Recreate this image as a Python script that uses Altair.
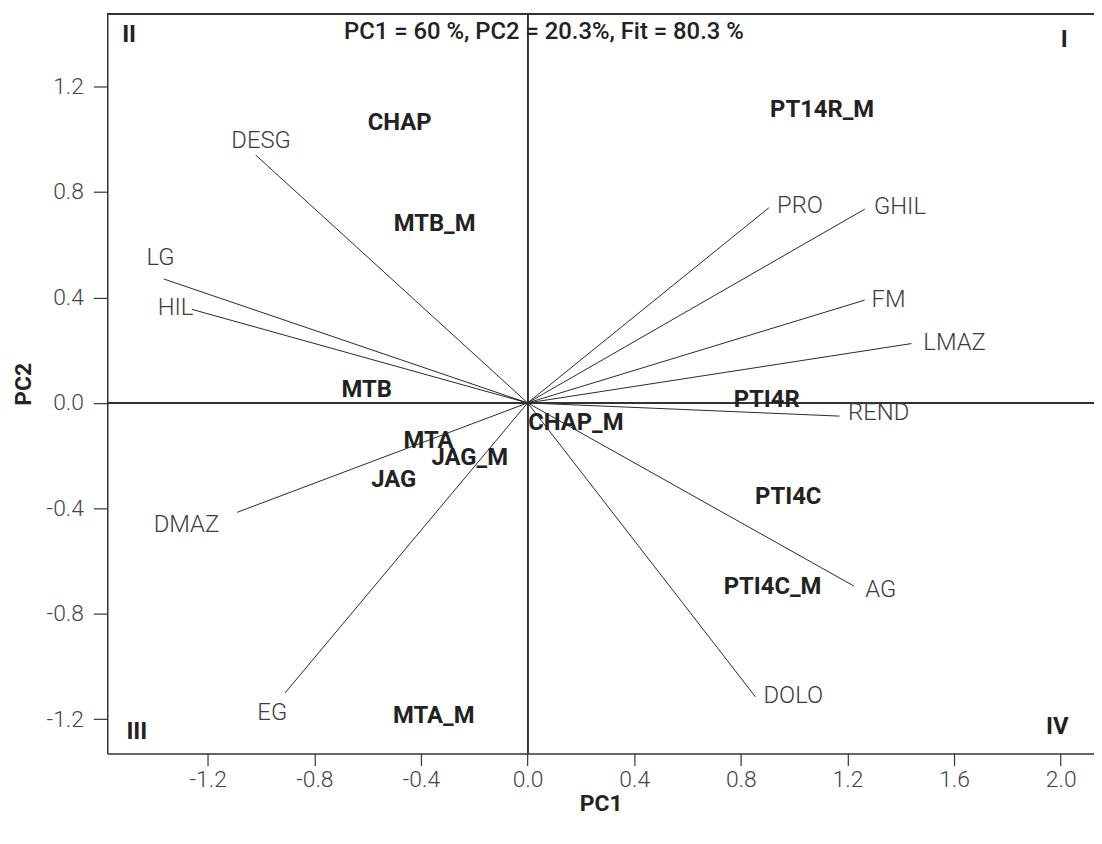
import altair as alt
import pandas as pd

# ---- data ----
# variable vectors: end points (PC1, PC2) and label positions
var_names = ["DESG", "LG", "HIL", "DMAZ", "EG", "PRO", "GHIL", "FM", "LMAZ", "REND", "AG", "DOLO"]
var_pc1 = [-1.02, -1.365, -1.26, -1.09, -0.91, 0.905, 1.265, 1.265, 1.44, 1.17, 1.225, 0.855]
var_pc2 = [0.94, 0.47, 0.355, -0.415, -1.10, 0.74, 0.735, 0.39, 0.225, -0.05, -0.695, -1.115]
var_lab_pc1 = [-1.00, -1.377, -1.321, -1.28, -0.958, 1.022, 1.397, 1.354, 1.602, 1.317, 1.325, 0.997]
var_lab_pc2 = [0.995, 0.55, 0.361, -0.463, -1.178, 0.748, 0.741, 0.389, 0.226, -0.04, -0.708, -1.111]

# genotype scores
geno_names = ["CHAP", "MTB_M", "PT14R_M", "MTB", "MTA", "JAG_M", "JAG", "CHAP_M",
              "PTI4R", "PTI4C", "PTI4C_M", "MTA_M"]
geno_pc1 = [-0.48, -0.349, 1.105, -0.604, -0.372, -0.217, -0.502, 0.181, 0.897, 0.978, 0.919, -0.352]
geno_pc2 = [1.062, 0.678, 1.112, 0.048, -0.143, -0.211, -0.294, -0.075, 0.010, -0.356, -0.697, -1.187]

# quadrant labels
quad_names = ["I", "II", "III", "IV"]
quad_pc1 = [2.013, -1.495, -1.466, 1.987]
quad_pc2 = [1.377, 1.396, -1.248, -1.229]

# header annotation
note_text = ["PC1 = 60 %, PC2 = 20.3%, Fit = 80.3 %"]
note_pc1 = [0.061]
note_pc2 = [1.407]

x_ticks = [-1.2, -0.8, -0.4, 0.0, 0.4, 0.8, 1.2, 1.6, 2.0]
y_ticks = [-1.2, -0.8, -0.4, 0.0, 0.4, 0.8, 1.2]
x_domain = [-1.577, 2.125]
y_domain = [-1.330, 1.475]

# ---- tables ----
vec_df = pd.DataFrame({"name": var_names, "pc1": var_pc1, "pc2": var_pc2,
                       "lx": var_lab_pc1, "ly": var_lab_pc2})
geno_df = pd.DataFrame({"name": geno_names, "pc1": geno_pc1, "pc2": geno_pc2})
quad_df = pd.DataFrame({"name": quad_names, "pc1": quad_pc1, "pc2": quad_pc2})
note_df = pd.DataFrame({"name": note_text, "pc1": note_pc1, "pc2": note_pc2})

FONT = "Roboto"
label_expr = "replace(format(datum.value, '.1f'), '\u2212', '-')"

xs = alt.Scale(domain=x_domain, nice=False, zero=False)
ys = alt.Scale(domain=y_domain, nice=False, zero=False)

x_axis = alt.Axis(values=x_ticks, labelExpr=label_expr, title="PC1",
                  titleY=50, titleBaseline="middle", tickSize=12, labelPadding=3)
y_axis = alt.Axis(values=y_ticks, labelExpr=label_expr, title="PC2",
                  titleX=-84, titleBaseline="middle", titleAngle=270,
                  tickSize=14, labelPadding=10)

vectors = alt.Chart(vec_df).mark_rule(color="#111111", strokeWidth=0.9).encode(
    x=alt.X("pc1:Q", scale=xs, axis=x_axis),
    y=alt.Y("pc2:Q", scale=ys, axis=y_axis),
    x2=alt.datum(0),
    y2=alt.datum(0),
)

hline = alt.Chart(geno_df).mark_rule(color="#333333", strokeWidth=1.2).encode(
    y=alt.datum(0, scale=ys)
)
vline = alt.Chart(geno_df).mark_rule(color="#333333", strokeWidth=1.2).encode(
    x=alt.datum(0, scale=xs)
)
topline = alt.Chart(geno_df).mark_rule(color="#333333", strokeWidth=1.5).encode(
    y=alt.value(0)
)

vec_labels = alt.Chart(vec_df).mark_text(
    font=FONT, fontSize=24, fontWeight=300, color="#3c3c3c"
).encode(x=alt.X("lx:Q", scale=xs), y=alt.Y("ly:Q", scale=ys), text="name:N")

geno_labels = alt.Chart(geno_df).mark_text(
    font=FONT, fontSize=24, fontWeight="bold", color="#222222"
).encode(x=alt.X("pc1:Q", scale=xs), y=alt.Y("pc2:Q", scale=ys), text="name:N")

quad_labels = alt.Chart(quad_df).mark_text(
    font=FONT, fontSize=24, fontWeight="bold", color="#222222"
).encode(x=alt.X("pc1:Q", scale=xs), y=alt.Y("pc2:Q", scale=ys), text="name:N")

note = alt.Chart(note_df).mark_text(
    font=FONT, fontSize=24, fontWeight=500, color="#222222"
).encode(x=alt.X("pc1:Q", scale=xs), y=alt.Y("pc2:Q", scale=ys), text="name:N")

chart = alt.layer(
    vectors, hline, vline, topline, vec_labels, geno_labels, quad_labels, note
).properties(
    width=994, height=745,
    autosize=alt.AutoSizeParams(type="none"),
    padding={"left": 100, "top": 3, "right": 0, "bottom": 85},
).configure_view(stroke=None).configure_axis(
    grid=False,
    domainColor="#333333", domainWidth=1.5,
    tickColor="#333333", tickWidth=1.2,
    labelFont=FONT, labelFontSize=23, labelFontWeight=300, labelColor="#444444",
    titleFont=FONT, titleFontSize=23, titleFontWeight="bold", titleColor="#222222",
)

chart.save("out.html", embed_options={"renderer": "svg", "actions": False})
